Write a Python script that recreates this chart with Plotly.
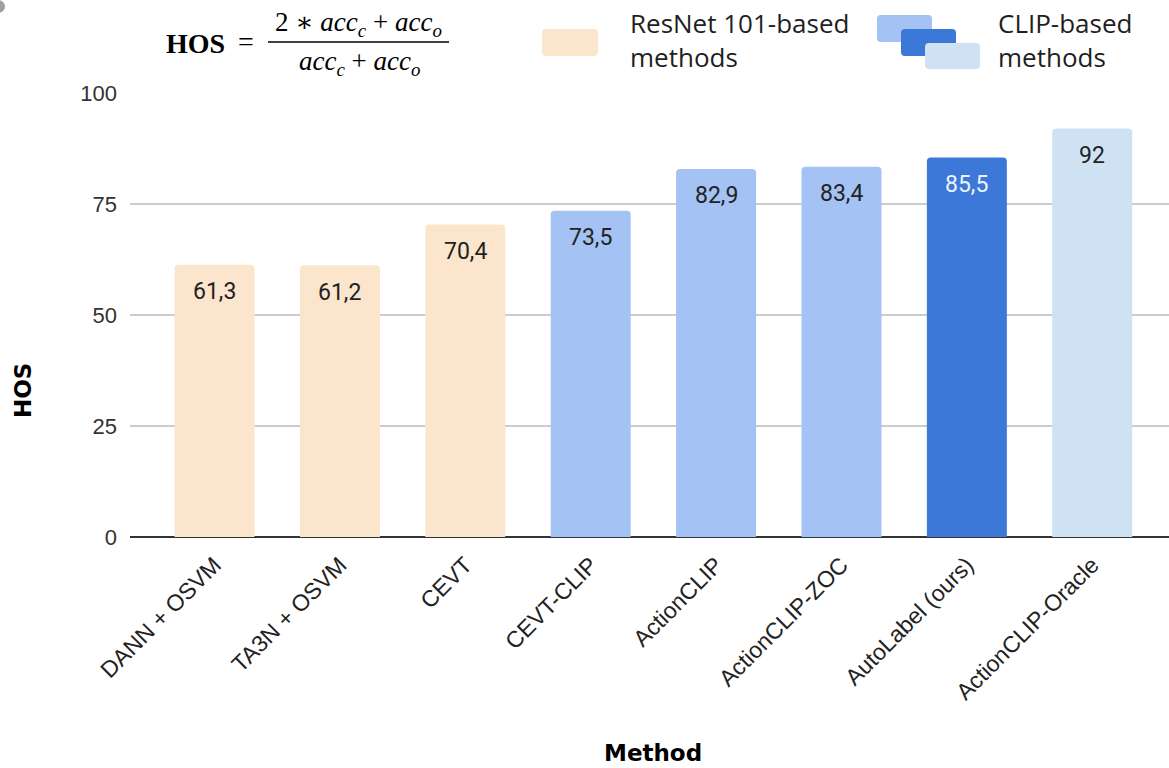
import plotly.graph_objects as go

# ---- data -------------------------------------------------------------
methods = [
    "DANN + OSVM", "TA3N + OSVM", "CEVT", "CEVT-CLIP",
    "ActionCLIP", "ActionCLIP-ZOC", "AutoLabel (ours)", "ActionCLIP-Oracle",
]
hos = [61.3, 61.2, 70.4, 73.5, 82.9, 83.4, 85.5, 92]
bar_colors = [
    "#fce5cd", "#fce5cd", "#fce5cd",
    "#a4c2f4", "#a4c2f4", "#a4c2f4",
    "#3c78d8", "#cfe2f3",
]
label_colors = ["#222222"] * 6 + ["#eef2fb", "#222222"]
y_ticks = [0, 25, 50, 75, 100]
legend_labels = ["ResNet 101-based<br>methods", "CLIP-based<br>methods"]

# ---- geometry of the canvas -----------------------------------------
W, H = 1169, 768
ML, MR, MT, MB = 130, 0, 93, 231
PW, PH = W - ML - MR, H - MT - MB


def px(x):
    """pixel x -> paper x"""
    return (x - ML) / PW


def py(y):
    """pixel y (from top) -> paper y"""
    return (H - MB - y) / PH


def rounded_rect(x0, y0, x1, y1, r=4):
    """SVG path of a rounded rectangle, given in pixels, emitted in paper units."""
    rx, ry = r / PW, r / PH
    X0, X1 = px(x0), px(x1)
    Y0, Y1 = py(y1), py(y0)  # bottom, top in paper
    return (
        f"M {X0 + rx},{Y0} L {X1 - rx},{Y0} Q {X1},{Y0} {X1},{Y0 + ry} "
        f"L {X1},{Y1 - ry} Q {X1},{Y1} {X1 - rx},{Y1} "
        f"L {X0 + rx},{Y1} Q {X0},{Y1} {X0},{Y1 - ry} "
        f"L {X0},{Y0 + ry} Q {X0},{Y0} {X0 + rx},{Y0} Z"
    )


def note(x, y, text, font, xanchor="center", yanchor="middle", **kw):
    """Text placed at pixel coordinates of the canvas."""
    fig.add_annotation(
        x=px(x), y=py(y), xref="paper", yref="paper", text=text,
        showarrow=False, xanchor=xanchor, yanchor=yanchor, font=font, **kw,
    )


fig = go.Figure(
    go.Bar(
        x=methods,
        y=hos,
        width=0.638,
        marker=dict(color=bar_colors, line=dict(width=0), cornerradius=4),
        hoverinfo="skip",
    )
)

# value labels inside the top of each bar
for m, v, c in zip(methods, hos, label_colors):
    fig.add_annotation(
        x=m, y=v, xref="x", yref="y",
        text=f"{v:g}".replace(".", ","),
        showarrow=False, xanchor="center", yanchor="middle", yshift=-27,
        font=dict(family="Roboto", size=23, color=c),
    )

# axis titles
title_font = dict(family="DejaVu Sans", size=23, color="#000000")
note(653, 753, "<b>Method</b>", title_font)
note(23, 391, "<b>HOS</b>", title_font, textangle=-90)

# HOS formula
serif = "Liberation Serif"
f_big = dict(family=serif, size=28, color="#000000")
f_frac = dict(family=serif, size=27, color="#000000")
note(195, 43, "<b>HOS</b>", f_big)
note(246, 42, "=", f_big)
note(358, 23,
     "2 <span style='font-family:DejaVu Serif'>∗</span> "
     "<i>acc</i><sub><i>c</i></sub> + <i>acc</i><sub><i>o</i></sub>", f_frac)
note(360, 63, "<i>acc</i><sub><i>c</i></sub> + <i>acc</i><sub><i>o</i></sub>", f_frac)
fig.add_shape(
    type="line", xref="paper", yref="paper",
    x0=px(268), x1=px(449), y0=py(42), y1=py(42),
    line=dict(color="#000000", width=1.3),
)

# custom legend
fig.add_shape(type="path", xref="paper", yref="paper",
              path=rounded_rect(542, 29, 598, 56), fillcolor="#fce5cd",
              line=dict(width=0), layer="above")
for (x0, y0, x1, y1), col in zip(
    [(877, 15, 932, 42), (901, 29, 956, 56), (925, 43, 980, 69)],
    ["#a4c2f4", "#3c78d8", "#cfe2f3"],
):
    fig.add_shape(type="path", xref="paper", yref="paper",
                  path=rounded_rect(x0, y0, x1, y1), fillcolor=col,
                  line=dict(width=0), layer="above")
legend_font = dict(family="Open Sans", size=26, color="#1f1f1f")
for x0, txt in zip([628, 996], legend_labels):
    note(x0, 40, txt, legend_font, xanchor="left", align="left")

# small round mark in the top-left corner
fig.add_shape(type="circle", xref="paper", yref="paper",
              x0=px(-8), x1=px(5), y0=py(13), y1=py(0),
              fillcolor="#a0a0a0", line=dict(width=0))

fig.update_layout(
    width=W, height=H,
    margin=dict(l=ML, r=MR, t=MT, b=MB, pad=0),
    paper_bgcolor="#ffffff", plot_bgcolor="#ffffff",
    showlegend=False,
    xaxis=dict(
        range=[-0.674, 7.612],
        tickangle=-45,
        tickfont=dict(family="Liberation Sans, Arial", size=23, color="#222222"),
        showgrid=False, showline=False, ticks="",
        ticklabelstandoff=9,
    ),
    yaxis=dict(
        range=[0, 100],
        tickvals=y_ticks,
        tickfont=dict(family="Liberation Sans, Arial", size=22, color="#333333"),
        showgrid=True, gridcolor="#cccccc", gridwidth=1.5,
        zeroline=True, zerolinecolor="#333333", zerolinewidth=2,
        showline=False, ticks="",
        ticklabelstandoff=12,
    ),
)

fig.write_html("out.html")
